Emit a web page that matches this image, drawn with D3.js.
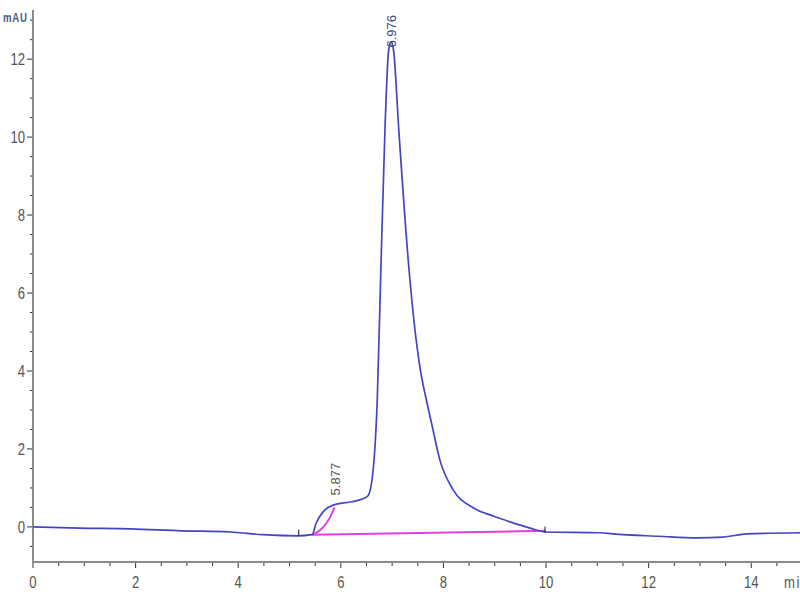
<!DOCTYPE html>
<html>
<head>
<meta charset="utf-8">
<script src="https://cdn.jsdelivr.net/npm/d3@7"></script>
<style>
  body { margin: 0; background: #fff; }
  svg { display: block; }
</style>
</head>
<body>
<div id="app"></div>
<script>
// Chromatogram trace (min, mAU)
const traceTime = [0, 0.9, 1.9, 2.9, 3.84, 4.48, 5.15, 5.44, 5.52, 5.65, 5.85, 6.18, 6.43, 6.53,
  6.63, 6.71, 6.78, 6.86, 6.93, 6.98, 7.03, 7.13, 7.33, 7.45, 7.56, 7.66, 7.77, 7.93, 8.19, 8.58, 8.97,
  9.3, 9.69, 9.98, 11.05, 11.3, 12.2, 12.94, 13.45, 13.92, 14.95];
const traceMAU = [0, -0.03, -0.05, -0.1, -0.13, -0.2, -0.23, -0.2, 0.1, 0.38, 0.56, 0.64, 0.72, 0.8,
  1.46, 3.26, 6.59, 10.18, 12.2, 12.45, 12.2, 10.18, 6.59, 5.0, 3.95, 3.3, 2.65, 1.72, 0.95, 0.49, 0.28,
  0.13, -0.03, -0.13, -0.15, -0.18, -0.24, -0.28, -0.26, -0.18, -0.15];

// Integration baseline and the small peak's split curve
const baseTime = [5.44, 9.98];
const baseMAU = [-0.2, -0.1];
const splitTime = [5.44, 5.6, 5.72, 5.8, 5.877];
const splitMAU = [-0.2, -0.08, 0.1, 0.27, 0.5];

// Peak labels and start/end markers
const peakTimes = [5.877, 6.976];
const peakMAU = [0.5, 12.45];
const markTimes = [5.18, 9.98];
const markMAU = [-0.2, -0.12];

const xTicks = [0, 2, 4, 6, 8, 10, 12, 14];
const yTicks = [0, 2, 4, 6, 8, 10, 12];

const width = 800;
const height = 600;
const axisColor = '#8a8a8a';
const labelColor = '#555';
const font = "'Liberation Sans', Arial, sans-serif";
const narrow = 0.82; // squeeze to look like Arial Narrow

const xScale = d3.scaleLinear().domain([0, 14.95]).range([33, 800]);
const yScale = d3.scaleLinear().domain([-0.9, 13.26]).range([562, 10]);

const svg = d3.select('#app')
  .append('svg')
  .attr('width', width)
  .attr('height', height);

// Minor ticks every 0.5
const xMinor = d3.range(0, 15, 0.5).filter((v) => v % 2 !== 0);
const yMinor = d3.range(-0.5, 13.5, 0.5).filter((v) => v % 2 !== 0);

const axes = svg.append('g').attr('id', 'axes');

axes.selectAll('.xminor')
  .data(xMinor)
  .join('line')
  .attr('x1', (d) => xScale(d))
  .attr('x2', (d) => xScale(d))
  .attr('y1', 562)
  .attr('y2', 566)
  .attr('stroke', '#333')
  .attr('stroke-width', 1);

axes.selectAll('.yminor')
  .data(yMinor)
  .join('line')
  .attr('x1', 30)
  .attr('x2', 33)
  .attr('y1', (d) => yScale(d))
  .attr('y2', (d) => yScale(d))
  .attr('stroke', '#333')
  .attr('stroke-width', 1);

// Major ticks with labels
axes.selectAll('.xmajor')
  .data(xTicks)
  .join('line')
  .attr('x1', (d) => xScale(d))
  .attr('x2', (d) => xScale(d))
  .attr('y1', 562)
  .attr('y2', 568)
  .attr('stroke', '#333')
  .attr('stroke-width', 1);

axes.selectAll('.ymajor')
  .data(yTicks)
  .join('line')
  .attr('x1', 27)
  .attr('x2', 33)
  .attr('y1', (d) => yScale(d))
  .attr('y2', (d) => yScale(d))
  .attr('stroke', '#333')
  .attr('stroke-width', 1);

axes.selectAll('.xlabel')
  .data(xTicks)
  .join('text')
  .attr('transform', (d) => `translate(${xScale(d)}, 588) scale(${narrow}, 1)`)
  .attr('text-anchor', 'middle')
  .attr('font-family', font)
  .attr('font-size', 16)
  .attr('fill', labelColor)
  .text((d) => d);

axes.selectAll('.ylabel')
  .data(yTicks)
  .join('text')
  .attr('transform', (d) => `translate(25, ${yScale(d) + 6}) scale(${narrow}, 1)`)
  .attr('text-anchor', 'end')
  .attr('font-family', font)
  .attr('font-size', 16)
  .attr('fill', labelColor)
  .text((d) => d);

// Axis lines
axes.append('line')
  .attr('x1', 33).attr('x2', 33)
  .attr('y1', 10).attr('y2', 563)
  .attr('stroke', axisColor)
  .attr('stroke-width', 2);
axes.append('line')
  .attr('x1', 32).attr('x2', 800)
  .attr('y1', 562).attr('y2', 562)
  .attr('stroke', axisColor)
  .attr('stroke-width', 2);

// Units
axes.append('text')
  .attr('transform', `translate(3, 22) scale(0.8, 1)`)
  .attr('font-family', font)
  .attr('font-size', 12)
  .attr('font-weight', 'bold')
  .attr('letter-spacing', 1)
  .attr('fill', '#4a5a78')
  .text('mAU');
axes.append('text')
  .attr('transform', `translate(784, 588) scale(${narrow}, 1)`)
  .attr('font-family', font)
  .attr('font-size', 16)
  .attr('letter-spacing', 2)
  .attr('fill', labelColor)
  .text('min');

const line = d3.line()
  .x((d) => xScale(d[0]))
  .y((d) => yScale(d[1]))
  .curve(d3.curveMonotoneX);

// Magenta baseline + split
svg.append('path')
  .datum(d3.zip(baseTime, baseMAU))
  .attr('d', d3.line().x((d) => xScale(d[0])).y((d) => yScale(d[1])))
  .attr('fill', 'none')
  .attr('stroke', '#e040e0')
  .attr('stroke-width', 2);
svg.append('path')
  .datum(d3.zip(splitTime, splitMAU))
  .attr('d', line)
  .attr('fill', 'none')
  .attr('stroke', '#e040e0')
  .attr('stroke-width', 2);

// Trace
svg.append('path')
  .datum(d3.zip(traceTime, traceMAU))
  .attr('d', line)
  .attr('fill', 'none')
  .attr('stroke', '#4444c4')
  .attr('stroke-width', 1.7);

// Start/end markers
svg.selectAll('.mark')
  .data(markTimes)
  .join('line')
  .attr('x1', (d) => xScale(d))
  .attr('x2', (d) => xScale(d))
  .attr('y1', (d, i) => yScale(markMAU[i]) - 5)
  .attr('y2', (d, i) => yScale(markMAU[i]) + 1)
  .attr('stroke', '#111')
  .attr('stroke-width', 1);

// Peak labels, rotated; the big one sits on top of the apex
svg.selectAll('.peaklabel')
  .data(peakTimes)
  .join('text')
  .attr('transform', (d, i) => `translate(${xScale(d) + 5}, ${yScale(peakMAU[i]) + (i === 1 ? 6 : -12)}) rotate(-90)`)
  .attr('font-family', font)
  .attr('font-size', 13)
  .attr('fill', (d, i) => (i === 1 ? '#3a4a80' : '#555'))
  .text((d) => d.toFixed(3));
</script>
</body>
</html>
